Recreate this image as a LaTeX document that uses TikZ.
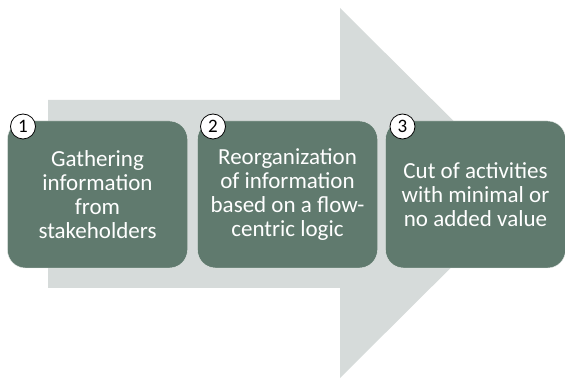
\documentclass[tikz,border=0pt]{standalone}
\usepackage{fontspec}
\setmainfont{Carlito}
\usetikzlibrary{positioning}
\definecolor{fleche}{RGB}{214,219,218}
\definecolor{vert}{RGB}{96,122,110}

\begin{document}
\begin{tikzpicture}[x=1pt,y=-1pt]
        \useasboundingbox (0,0) rectangle (565,379);
        \tikzset{etape/.style={draw=white!85!vert,fill=vert,rounded corners=18pt,minimum width=180pt,minimum height=147pt,text=white,align=center,font=\fontsize{23}{24}\selectfont}}
        \tikzset{numero/.style={circle,draw=black,thick,fill=white,inner sep=0pt,minimum size=25pt,font=\fontsize{19}{19}\selectfont}}
        % grosse fleche de fond
        \fill[fleche] (48,100) -- (340,100) -- (340,8) -- (526,193) -- (340,378) -- (340,288) -- (48,288) -- cycle;
        % les trois etapes
        \node[etape] (E1) at (97.5,194.5) {Gathering\\information\\from\\stakeholders};
        \node[etape] (E2) at (287.5,194.5) {Reorganization\\of information\\based on a flow-\\centric logic};
        \node[etape] (E3) at (475.5,194.5) {Cut of activities\\with minimal or\\no added value};
        \node[numero] (N1) at (23,126.5) {1};
        \node[numero] (N2) at (213,126.5) {2};
        \node[numero] (N3) at (402.5,126.5) {3};
\end{tikzpicture}
\end{document}
